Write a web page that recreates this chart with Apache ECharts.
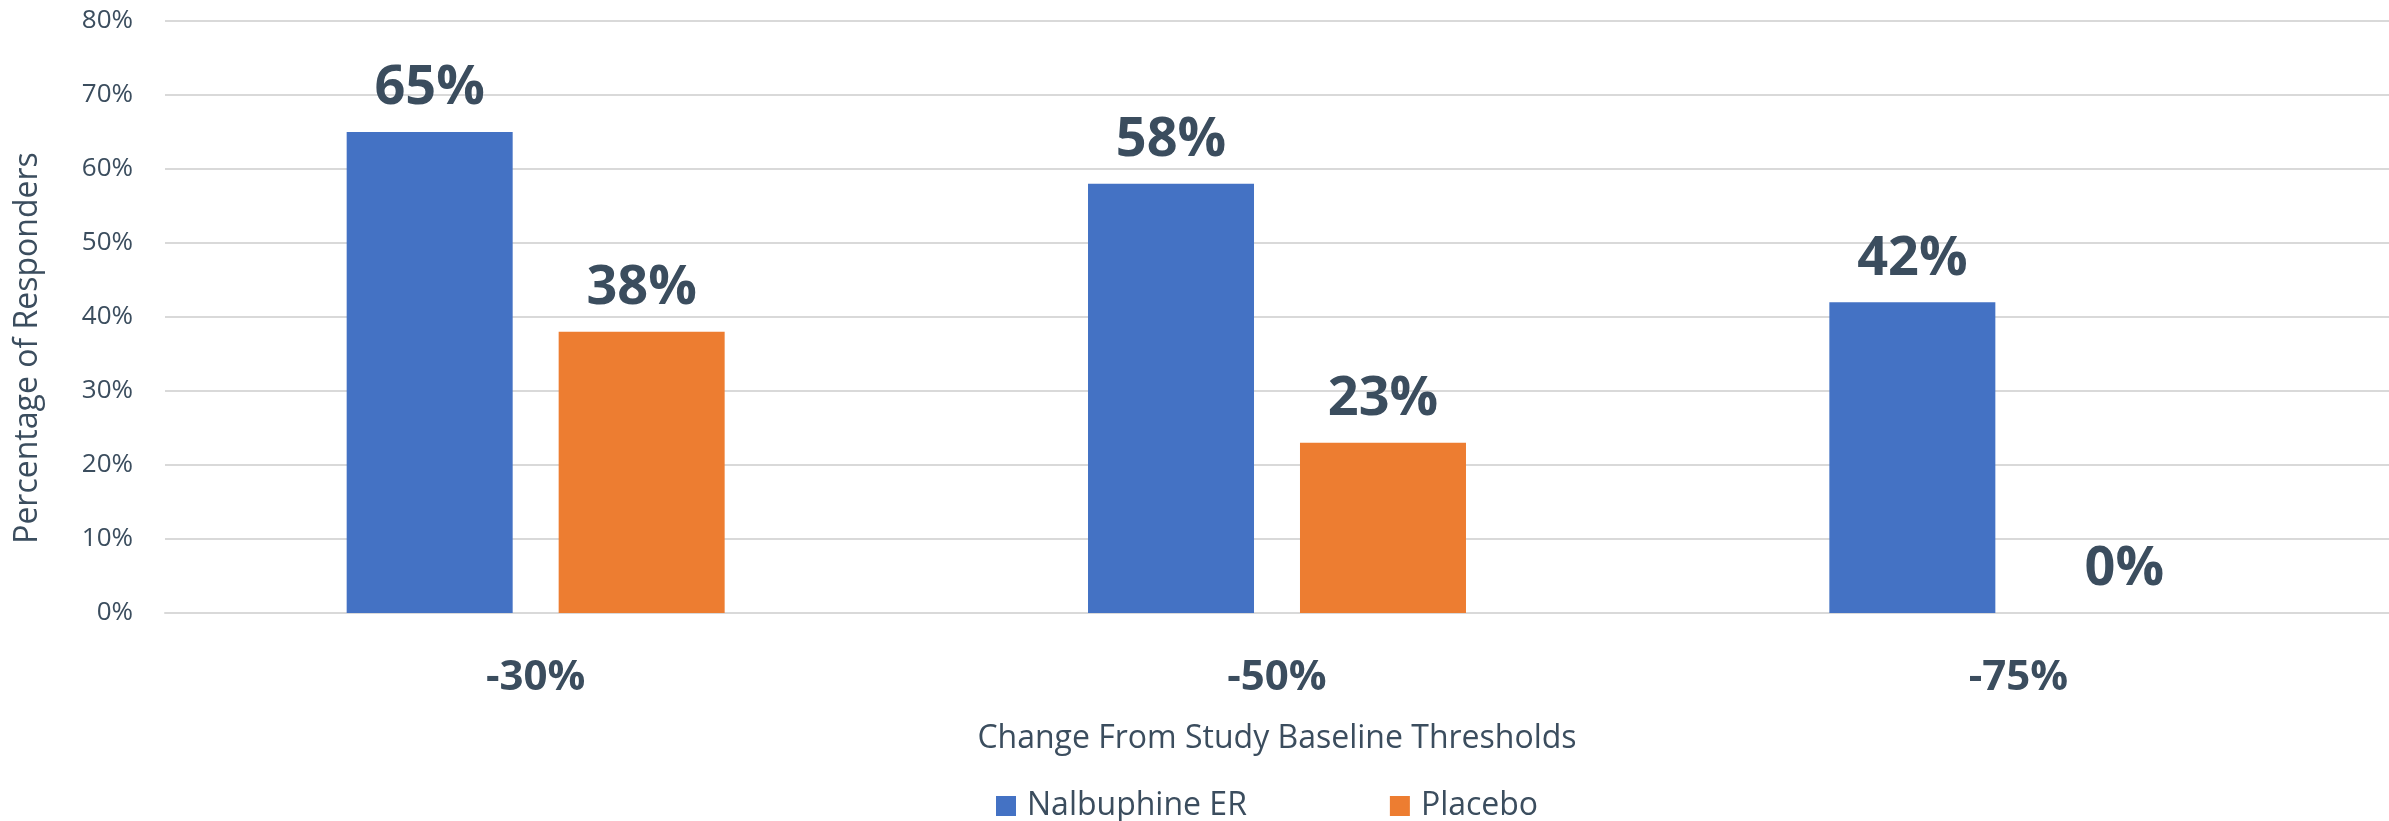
<!DOCTYPE html>
<html>
<head>
<meta charset="utf-8">
<style>
  html, body { margin: 0; padding: 0; background: #fff; }
  #chart { width: 2389px; height: 821px; }
</style>
<script src="https://cdn.jsdelivr.net/npm/echarts@6/dist/echarts.min.js"></script>
</head>
<body>
<div id="chart"></div>
<script>
// data
var categories = ['-30%', '-50%', '-75%']
var nalbuphine = [65, 58, 42]
var placebo = [38, 23, 0]
var seriesNames = ['Nalbuphine ER', 'Placebo']

var textColor = '#3b4d5e'
var font = 'Open Sans'

var chart = echarts.init(document.getElementById('chart'))

function barSeries(name, data, color) {
  return {
    name: name,
    type: 'bar',
    data: data,
    barWidth: 166,
    barGap: '27.7%',
    itemStyle: { color: color },
    label: {
      show: true,
      position: 'top',
      distance: 16,
      formatter: '{c}%',
      color: textColor,
      fontFamily: font,
      fontWeight: 'bold',
      fontSize: 54
    },
    animation: false
  }
}

chart.setOption({
  animation: false,
  grid: {
    left: 165,
    right: 0,
    top: 21,
    bottom: 208
  },
  legend: {
    data: seriesNames,
    left: 996,
    top: 790,
    padding: 0,
    icon: 'rect',
    itemWidth: 20,
    itemHeight: 20,
    itemGap: 143,
    textStyle: {
      color: textColor,
      fontFamily: font,
      fontSize: 32,
      padding: [0, 0, 0, 6]
    }
  },
  xAxis: {
    type: 'category',
    data: categories,
    name: 'Change From Study Baseline Thresholds',
    nameLocation: 'middle',
    nameGap: 110,
    nameTextStyle: {
      color: textColor,
      fontFamily: font,
      fontSize: 32
    },
    axisTick: { show: false },
    axisLine: {
      lineStyle: { color: '#d9d9d9', width: 2 }
    },
    axisLabel: {
      margin: 44,
      color: textColor,
      fontFamily: font,
      fontWeight: 'bold',
      fontSize: 42
    }
  },
  yAxis: {
    type: 'value',
    min: 0,
    max: 80,
    interval: 10,
    name: 'Percentage of Responders',
    nameLocation: 'middle',
    nameGap: 121,
    nameTextStyle: {
      color: textColor,
      fontFamily: font,
      fontSize: 32,
      padding: [0, 62, 0, 0]
    },
    axisLabel: {
      margin: 32,
      formatter: '{value}%',
      color: textColor,
      fontFamily: font,
      fontSize: 26
    },
    splitLine: {
      lineStyle: { color: '#d9d9d9', width: 2 }
    }
  },
  series: [
    barSeries(seriesNames[0], nalbuphine, '#4472c4'),
    barSeries(seriesNames[1], placebo, '#ed7d31')
  ]
})
</script>
</body>
</html>
